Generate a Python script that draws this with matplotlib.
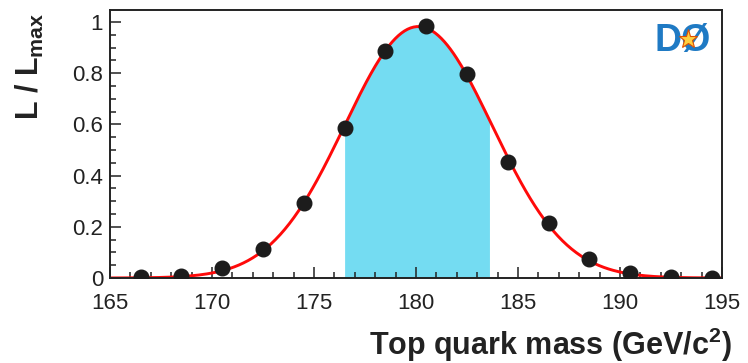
import numpy as np
import matplotlib
matplotlib.use("Agg")
import matplotlib.pyplot as plt
from matplotlib.ticker import MultipleLocator, FuncFormatter

plt.rcParams['font.family'] = ['Liberation Sans', 'DejaVu Sans']
plt.rcParams['mathtext.fontset'] = 'custom'
plt.rcParams['mathtext.rm'] = 'Liberation Sans:bold'
plt.rcParams['mathtext.bf'] = 'Liberation Sans:bold'
plt.rcParams['mathtext.it'] = 'Liberation Sans:bold'

# likelihood points
mass = [166.5, 168.5, 170.5, 172.5, 174.5, 176.5, 178.5, 180.5,
        182.5, 184.5, 186.5, 188.5, 190.5, 192.5, 194.5]
lik = [0.002, 0.006, 0.038, 0.115, 0.294, 0.587, 0.887, 0.983,
       0.797, 0.452, 0.213, 0.073, 0.018, 0.003, 0.001]
band = [176.5, 183.6]   # shaded 1 sigma interval

x_ticks = [165, 170, 175, 180, 185, 190, 195]
y_ticks = [0, 0.2, 0.4, 0.6, 0.8, 1]

# gaussian fit in log space, weighted by the likelihood
m = np.array(mass)
l = np.array(lik)
sel = l > 0.015
a, b, c = np.polyfit(m[sel], np.log(l[sel]), 2, w=l[sel])
xx = np.linspace(165, 195, 400)
yy = np.exp(a * xx ** 2 + b * xx + c)

fig = plt.figure(figsize=(7.48, 3.63), dpi=100)
ax = fig.add_axes([110 / 748, 85 / 363, 612 / 748, 268 / 363])

xb = np.linspace(band[0], band[1], 200)
ax.fill_between(xb, 0, np.exp(a * xb ** 2 + b * xb + c), color='#74dcf2', lw=0, zorder=1)
ax.plot(xx, yy, color='#ff0a0a', lw=2.1, zorder=2)
ax.plot(mass, lik, 'o', color='#1c1c1c', ms=10.5, zorder=3)

ax.set_xlim(165, 195)
ax.set_ylim(0, 1.047)
ax.set_xticks(x_ticks)
ax.set_yticks(y_ticks)
ax.xaxis.set_minor_locator(MultipleLocator(1))
ax.yaxis.set_minor_locator(MultipleLocator(0.05))
ax.yaxis.set_major_formatter(FuncFormatter(lambda v, p: '%g' % v))
ax.tick_params(which='both', direction='in', top=False, right=False,
               width=1.1, color='#222222', labelsize=16, labelcolor='#222222')
ax.tick_params(which='major', length=8)
ax.tick_params(which='minor', length=4.5)
ax.tick_params(axis='x', pad=11)
ax.tick_params(axis='y', pad=5)
for s in ax.spines.values():
    s.set_linewidth(1.4)
    s.set_color('#222222')

fig.text(732 / 748, 1 - 355 / 363, 'Top quark mass (GeV/c$^2$)', ha='right', va='baseline',
         fontsize=22, fontweight='bold', color='#222222')
fig.text(30 / 748, 1 - 12 / 363, 'L / L$_{max}$', rotation=90, ha='center', va='top',
         fontsize=22, fontweight='bold', color='#222222')

# D0 logo
ax.text(0.982, 0.884, 'DØ', transform=ax.transAxes, ha='right', va='center',
        fontsize=27, fontweight='heavy', color='#1f7ac4', zorder=5)
ax.plot([0.944], [0.893], marker='*', ms=14, color='#ffd040', mec='#e05000', mew=0.8,
        transform=ax.transAxes, zorder=6)

fig.savefig('out.png', dpi=100)
